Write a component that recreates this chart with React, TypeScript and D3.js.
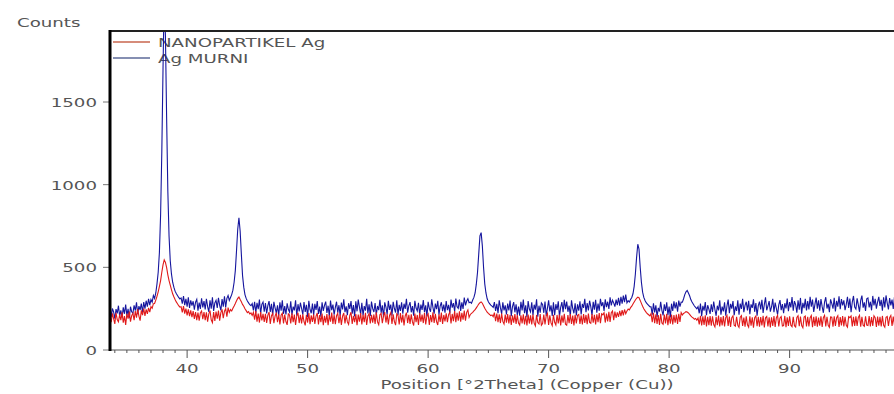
import * as d3 from 'd3';

// diffractogram sampled every 0.1 deg from 33.5 deg
const angleStart = 33.5;
const angleStep = 0.1;

const agMurni = [
  215,262,198,251,230,189,247,221,268,205,
  240,196,258,219,275,208,249,193,262,231,
  222,270,238,289,217,265,242,281,229,290,
  250,298,262,310,271,305,289,330,312,345,
  400,470,590,820,1200,1700,2150,1900,1400,960,
  690,540,460,410,380,356,342,330,318,309,
  315,280,326,271,309,262,318,255,300,268,
  295,244,290,306,238,287,249,312,258,296,
  246,310,262,231,301,250,319,236,285,300,
  255,316,270,240,308,262,325,258,312,330,
  300,318,335,362,410,480,600,730,800,720,
  580,450,380,335,312,296,285,274,268,281,
  240,292,226,285,247,305,219,276,290,232,
  284,221,268,296,230,279,210,291,255,225,
  270,208,289,238,301,219,266,215,282,246,
  229,295,212,262,240,301,207,277,233,286,
  251,214,290,231,273,200,298,245,222,281,
  211,279,243,296,218,262,201,289,236,270,
  293,224,268,205,299,241,275,213,258,292,
  226,271,208,287,245,306,229,264,210,283,
  248,296,220,272,203,294,234,305,259,217,
  285,209,266,238,309,221,277,206,293,250,
  230,284,212,266,241,303,225,270,199,288,
  259,216,297,243,275,208,292,251,227,301,
  212,273,236,289,219,280,248,310,226,267,
  290,228,265,207,298,254,236,286,214,275,
  243,302,229,270,203,291,252,231,306,258,
  220,281,247,298,214,266,289,235,274,226,
  296,241,273,222,305,256,284,233,311,262,
  252,305,236,288,249,317,270,296,310,286,
  290,283,302,318,345,398,470,580,690,710,
  630,500,400,345,310,292,280,271,265,258,
  290,236,279,222,301,256,218,288,240,270,
  215,281,239,299,205,262,290,228,276,211,
  262,208,292,240,305,223,270,199,296,248,
  231,289,210,274,244,306,202,268,226,285,
  275,225,293,207,252,301,233,270,206,289,
  210,277,242,295,201,258,290,229,303,247,
  293,231,268,206,300,251,222,283,209,276,
  238,295,215,279,255,310,229,284,240,298,
  262,211,291,244,304,226,281,237,309,265,
  289,236,306,259,292,248,318,270,301,285,
  262,305,271,316,268,322,280,329,290,335,
  285,298,290,305,318,340,385,460,560,640,
  610,500,410,350,318,300,286,278,270,262,
  261,214,283,228,270,200,255,233,291,240,
  209,276,237,288,211,262,197,280,236,294,
  251,288,232,299,262,290,289,310,335,352,
  360,345,328,305,290,278,266,258,249,262,
  222,281,205,267,238,290,210,271,247,218,
  276,230,293,245,207,268,239,301,214,262,
  233,289,207,266,305,222,279,250,296,210,
  264,236,300,213,281,249,310,229,270,292,
  240,297,216,276,255,306,231,284,208,268,
  293,245,304,224,275,318,240,266,296,232,
  260,309,228,287,251,214,273,302,241,278,
  222,283,252,311,235,290,258,320,238,296,
  275,226,301,244,315,219,285,253,309,240,
  296,246,322,262,305,230,276,317,250,301,
  238,308,262,225,290,319,251,280,229,306,
  281,250,315,233,297,262,325,247,308,270,
  300,241,276,322,255,311,228,290,327,260,
  248,312,273,231,300,329,256,288,236,310,
  315,258,292,240,327,270,309,250,289,321,
  266,303,238,318,257,330,284,246,314,270,
  305,248,322,270,293,336,255,316,278,328,
];

const nanoAg = [
  175,210,168,221,190,158,225,184,170,214,
  180,228,165,205,152,219,190,232,172,208,
  222,181,236,196,247,205,178,240,211,251,
  206,246,218,255,229,262,252,280,281,302,
  325,352,385,420,470,515,545,530,498,455,
  420,392,365,340,322,306,291,280,268,259,
  262,228,265,220,251,210,246,205,240,198,
  235,188,230,181,226,178,224,236,186,230,
  180,228,172,219,238,183,166,229,176,233,
  190,238,178,226,246,192,235,250,201,256,
  228,245,236,252,266,281,298,312,320,305,
  292,276,265,249,238,226,232,218,224,209,
  228,183,235,172,221,166,230,179,218,170,
  219,164,211,229,158,208,221,162,205,226,
  168,216,154,210,223,160,214,171,152,218,
  211,160,222,168,214,151,207,225,163,212,
  160,216,171,149,213,166,224,156,209,170,
  215,158,205,224,154,211,168,220,150,206,
  165,218,150,212,171,226,158,213,156,207,
  222,162,214,152,205,224,160,213,170,155,
  209,228,157,207,168,218,150,214,171,224,
  155,213,169,225,151,206,219,160,212,166,
  215,158,228,170,153,213,222,162,208,229,
  166,218,154,210,226,158,216,172,150,219,
  210,154,224,166,214,148,207,226,163,213,
  157,216,170,148,221,168,212,152,224,171,
  214,163,225,155,208,219,151,211,169,228,
  163,218,172,151,216,170,226,158,212,173,
  222,168,214,229,160,218,174,235,168,225,
  178,234,172,225,183,238,178,228,242,198,
  215,222,228,236,244,255,266,278,286,291,
  283,268,252,240,229,221,215,208,212,201,
  226,174,221,168,216,163,220,173,157,214,
  166,218,161,212,152,209,166,217,158,211,
  163,151,210,161,216,155,207,148,214,160,
  209,155,215,162,146,212,166,158,218,150,
  160,214,155,207,221,152,210,164,147,213,
  168,152,212,160,215,148,209,165,219,156,
  150,211,162,218,157,208,149,213,161,210,
  215,158,209,154,217,164,212,156,220,167,
  162,218,165,213,155,216,169,223,162,219,
  213,226,166,220,173,231,170,226,236,180,
  232,195,227,200,237,205,241,210,245,220,
  236,248,242,256,265,278,290,302,313,320,
  316,300,282,265,250,238,228,219,213,206,
  220,168,225,162,216,158,212,152,219,164,
  156,214,161,219,150,209,159,215,154,211,
  165,214,158,219,170,226,212,221,226,232,
  230,224,216,207,199,194,186,191,180,193,
  155,206,148,203,152,210,143,201,150,205,
  147,203,154,140,200,150,208,143,199,148,
  205,142,197,209,146,202,139,196,207,150,
  144,201,150,137,199,208,146,196,141,203,
  152,138,204,147,198,135,196,206,144,200,
  141,199,148,207,137,195,203,143,198,136,
  198,146,205,140,196,210,142,194,202,145,
  148,206,138,198,146,204,150,141,201,147,
  139,197,207,144,202,148,135,199,205,142,
  201,143,195,208,138,200,146,203,141,196,
  147,204,140,196,210,143,201,149,137,200,
  198,141,203,146,195,207,139,199,148,205,
  143,201,149,138,202,196,206,142,200,145,
  203,146,197,210,141,201,150,143,204,151,
  148,205,142,199,146,207,196,139,202,147,
  200,143,206,150,138,198,203,145,196,209,
  145,202,151,141,204,147,200,207,143,198,
];

const xTicks = [40, 50, 60, 70, 80, 90];
const yTicks = [0, 500, 1000, 1500];
const seriesNames = ['NANOPARTIKEL Ag', 'Ag MURNI'];
const seriesColors = ['#e01a1a', '#16169e'];
const legendColors = ['#c8664e', '#5c6a98'];

const W = 894;
const H = 394;
const left = 110;
const top = 31;
const bottom = 350;
const font = '"DejaVu Sans", Verdana, sans-serif';
const textColor = '#555';

const App = () => {
  const x = d3.scaleLinear().domain([33.6, 100]).range([left, left + 66.4 * 12.05]);
  const y = d3.scaleLinear().domain([0, 1500]).range([bottom, 102]);

  const line = d3.line<number>()
    .x((_, i) => x(angleStart + i * angleStep))
    .y(d => y(d));

  const minorTicks = d3.range(34, 100, 1);

  // stretched look of the original export
  const label = (tx: number, ty: number, text: string, anchor = 'start', size = 13) => (
    <text
      transform={`translate(${tx},${ty}) scale(1.4,1)`}
      textAnchor={anchor}
      fontFamily={font}
      fontSize={size}
      fill={textColor}
    >{text}</text>
  );

  return (
    <svg width={W} height={H} style={{ position: 'absolute', left: 0, top: 0, background: '#fff' }}>
      <defs>
        <clipPath id="plot-clip">
          <rect x={left} y={top} width={W - left} height={bottom - top} />
        </clipPath>
      </defs>

      {label(17, 27, 'Counts')}

      {/* y axis */}
      {yTicks.map(t => (
        <g key={t}>
          <line x1={left - 7} x2={left} y1={y(t)} y2={y(t)} stroke="#777" strokeWidth={1} />
          {label(97, y(t) + 5, String(t), 'end')}
        </g>
      ))}

      {/* x axis */}
      <line x1={left} x2={W} y1={bottom} y2={bottom} stroke="#555" strokeWidth={1.2} />
      {minorTicks.map(t => (
        <line key={t} x1={x(t)} x2={x(t)} y1={bottom} y2={bottom + (t % 10 === 0 ? 8 : 3)}
          stroke="#555" strokeWidth={1} />
      ))}
      {xTicks.map(t => (
        <g key={t}>{label(x(t), 373, String(t), 'middle')}</g>
      ))}
      {label(527, 389, 'Position [°2Theta] (Copper (Cu))', 'middle')}

      {/* legend */}
      {seriesNames.map((name, i) => (
        <g key={name}>
          <line x1={113} x2={150} y1={42 + i * 16} y2={42 + i * 16} stroke={legendColors[i]} strokeWidth={1.5} />
          {label(158, 47 + i * 16, name)}
        </g>
      ))}

      {/* data */}
      <g clipPath="url(#plot-clip)">
        <path d={line(agMurni) ?? ''} fill="none" stroke={seriesColors[1]} strokeWidth={1.1} />
        <path d={line(nanoAg) ?? ''} fill="none" stroke={seriesColors[0]} strokeWidth={1.1} />
      </g>

      {/* frame */}
      <line x1={left} x2={W} y1={top} y2={top} stroke="#222" strokeWidth={2} />
      <line x1={left} x2={left} y1={top - 1} y2={bottom + 1} stroke="#000" strokeWidth={3} />
    </svg>
  );
};

export default App;
